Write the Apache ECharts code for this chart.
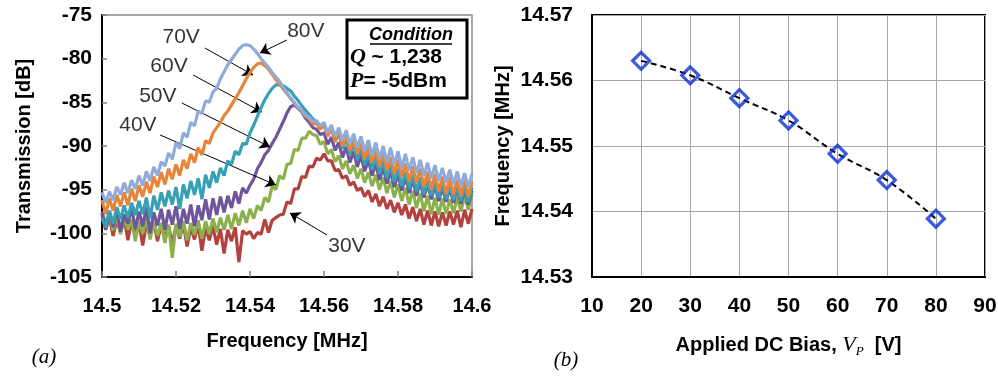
<!DOCTYPE html>
<html>
<head>
<meta charset="utf-8">
<script src="https://cdn.jsdelivr.net/npm/echarts@6.0.0/dist/echarts.min.js"></script>
<style>
  html, body { margin: 0; padding: 0; background: #fff; }
  #chart { width: 998px; height: 376px; }
</style>
</head>
<body>
<div id="chart"></div>
<script>
// ---- (a) transmission sweeps: 14.500 .. 14.600 MHz, one sample per kHz ----
const freqStart = 14.5;
const freqStep = 0.001;
const biasNames = ['30V', '40V', '50V', '60V', '70V', '80V'];

const trace30 = [
  -97.9, -99.6, -98.2, -100.3, -98.5, -99.9, -98.3, -100.8, -98.6, -100.1,
  -98.8, -101.4, -98.9, -100.3, -98.7, -100.9, -99.0, -100.5, -99.1, -101.2,
  -99.2, -100.6, -98.9, -101.5, -99.3, -100.7, -99.0, -102.0, -99.4, -100.8,
  -99.2, -101.3, -99.5, -102.3, -99.6, -100.9, -99.3, -103.3, -99.7, -100.1,
  -99.8, -100.6, -99.9, -100.1, -98.4, -99.9, -98.5, -98.2, -97.9, -97.8,
  -96.4, -96.6, -94.9, -94.9, -93.5, -93.6, -92.3, -92.4, -91.4, -91.6,
  -90.9, -91.7, -91.7, -92.8, -92.7, -93.7, -93.4, -94.5, -94.1, -95.1,
  -94.8, -95.8, -95.1, -96.4, -95.5, -96.9, -95.8, -97.2, -96.2, -97.6,
  -96.5, -97.9, -96.7, -98.3, -97.0, -98.6, -97.2, -99.0, -97.4, -99.1,
  -97.5, -99.2, -97.6, -99.1, -97.5, -99.0, -97.4, -99.3, -97.3, -98.9, -97.2
];
const trace40 = [
  -97.5, -98.9, -97.9, -99.7, -98.0, -100.1, -98.3, -99.6, -98.4, -100.9,
  -98.6, -100.0, -98.3, -100.7, -98.7, -100.3, -98.8, -101.1, -99.0, -102.8,
  -98.9, -100.4, -98.6, -100.8, -98.8, -100.2, -98.5, -100.6, -98.6, -100.1,
  -98.3, -99.9, -98.2, -99.6, -97.9, -99.5, -97.7, -99.1, -97.4, -98.8,
  -97.2, -98.3, -96.8, -97.4, -95.9, -96.4, -94.6, -95.0, -93.4, -93.8,
  -92.1, -92.0, -90.4, -90.5, -89.1, -89.1, -88.3, -88.7, -88.8, -89.8,
  -89.5, -90.9, -90.4, -91.8, -91.1, -92.6, -91.7, -93.2, -92.2, -93.7,
  -92.6, -94.2, -93.0, -94.6, -93.3, -95.0, -93.6, -95.4, -94.0, -95.9,
  -94.4, -96.3, -94.8, -96.7, -95.1, -97.1, -95.4, -97.5, -95.7, -97.8,
  -95.9, -97.9, -96.0, -97.8, -96.1, -97.7, -95.9, -97.5, -95.7, -97.3, -95.6
];
const trace50 = [
  -97.6, -99.4, -97.5, -99.3, -97.2, -99.8, -97.8, -98.9, -97.1, -99.5,
  -97.5, -99.2, -97.0, -100.0, -97.6, -99.1, -97.2, -99.6, -97.3, -99.0,
  -96.9, -99.5, -97.2, -98.9, -96.7, -99.2, -96.8, -98.5, -96.1, -98.4,
  -96.0, -97.9, -95.8, -97.6, -95.7, -97.1, -95.2, -96.6, -94.8, -95.4,
  -94.5, -93.8, -92.6, -91.9, -91.0, -90.5, -89.7, -89.0, -88.1, -87.2,
  -86.2, -85.5, -85.3, -85.7, -86.1, -86.8, -87.3, -87.9, -88.1, -88.7,
  -88.5, -89.8, -89.0, -90.5, -89.6, -91.3, -90.1, -91.9, -90.6, -92.4,
  -91.1, -92.9, -91.6, -93.4, -92.0, -93.9, -92.4, -94.3, -92.8, -94.7,
  -93.2, -95.1, -93.5, -95.4, -93.8, -95.7, -94.1, -95.9, -94.3, -96.1,
  -94.5, -96.3, -94.7, -96.4, -94.8, -96.5, -94.9, -96.6, -95.0, -96.7, -95.1
];
const trace60 = [
  -98.3, -99.3, -97.4, -98.9, -97.0, -98.4, -96.8, -98.2, -96.5, -97.9,
  -96.3, -97.8, -95.9, -98.3, -95.7, -97.3, -95.3, -96.9, -95.1, -96.7,
  -94.7, -97.2, -94.4, -96.0, -94.0, -95.6, -93.7, -96.1, -93.3, -94.8,
  -92.9, -94.2, -92.5, -93.4, -91.7, -92.1, -90.6, -91.0, -89.7, -89.8,
  -88.5, -87.6, -86.6, -85.6, -84.7, -84.0, -83.4, -83.0, -83.0, -83.1,
  -83.4, -83.7, -84.3, -84.8, -85.4, -85.9, -86.4, -86.9, -87.3, -87.7,
  -87.6, -88.8, -88.0, -89.5, -88.5, -90.3, -89.1, -91.0, -89.7, -91.6,
  -90.3, -92.2, -90.8, -92.7, -91.3, -93.2, -91.7, -93.7, -92.2, -94.1,
  -92.6, -94.6, -93.0, -94.9, -93.3, -95.2, -93.6, -95.5, -93.9, -95.7,
  -94.1, -95.9, -94.3, -96.1, -94.5, -96.2, -94.6, -96.3, -94.7, -96.4, -94.8
];
const trace70 = [
  -96.2, -97.8, -96.0, -97.4, -95.6, -96.9, -95.3, -96.8, -94.9, -96.3,
  -94.5, -95.8, -94.1, -95.4, -93.5, -94.7, -93.0, -94.4, -92.6, -93.8,
  -92.1, -93.4, -91.6, -92.6, -90.9, -91.9, -90.2, -91.0, -89.4, -89.7,
  -88.5, -87.9, -87.3, -86.5, -86.0, -85.3, -84.6, -83.9, -83.1, -82.3,
  -81.6, -81.0, -80.6, -80.5, -80.8, -81.2, -81.8, -82.4, -82.9, -83.5,
  -84.0, -84.5, -85.1, -85.6, -86.0, -86.6, -86.9, -87.5, -87.4, -88.1,
  -87.5, -88.9, -87.9, -89.5, -88.3, -90.0, -88.7, -90.5, -89.2, -90.9,
  -89.7, -91.5, -90.0, -91.9, -90.4, -92.4, -90.8, -92.8, -91.3, -93.2,
  -91.6, -93.5, -92.0, -94.1, -92.3, -94.2, -92.6, -94.7, -92.9, -95.0,
  -93.2, -95.2, -93.5, -95.5, -93.6, -95.6, -93.8, -95.7, -93.9, -95.8, -94.1
];
const trace80 = [
  -95.3, -96.5, -95.2, -96.2, -94.7, -95.6, -94.2, -95.4, -93.9, -94.9,
  -93.4, -94.5, -92.9, -94.0, -92.4, -93.4, -91.8, -92.3, -90.8, -91.5,
  -89.6, -90.3, -88.5, -89.0, -87.3, -87.7, -86.0, -86.3, -84.8, -85.0,
  -83.8, -83.4, -82.3, -81.5, -80.7, -80.1, -79.5, -78.9, -78.5, -78.4,
  -78.5, -78.9, -79.4, -80.0, -80.5, -81.0, -81.6, -82.1, -82.6, -83.3,
  -83.9, -84.6, -85.0, -85.6, -85.9, -86.5, -86.7, -87.2, -87.1, -87.7,
  -87.3, -88.5, -87.6, -88.9, -87.9, -89.4, -88.2, -89.8, -88.6, -90.2,
  -88.9, -90.6, -89.3, -91.1, -89.6, -91.5, -90.0, -91.9, -90.2, -92.2,
  -90.6, -92.5, -90.9, -92.8, -91.3, -93.1, -91.6, -93.4, -91.9, -93.7,
  -92.2, -94.0, -92.5, -94.2, -92.7, -94.4, -92.9, -94.6, -93.1, -94.7, -93.2
];
const traces = [trace30, trace40, trace50, trace60, trace70, trace80];
const traceColors = ['#b3423f', '#8cb04b', '#6f559b', '#35a0b6', '#e8843a', '#8fabd9'];

// annotation text and arrows, in (MHz, dB) of panel (a)
const annoText = ['80V', '70V', '60V', '50V', '40V', '30V'];
const annoAt = [[14.5551, -76.83], [14.5214, -77.52], [14.5181, -80.84], [14.5151, -84.27], [14.5097, -87.60], [14.5662, -101.45]];
const arrowFrom = [[14.5500, -77.86], [14.5278, -78.78], [14.5246, -81.87], [14.5216, -85.08], [14.5157, -88.74], [14.5608, -100.19]];
const arrowTo = [[14.5427, -79.35], [14.5408, -81.87], [14.5432, -86.11], [14.5454, -90.11], [14.5470, -94.47], [14.5508, -97.67]];

// ---- (b) resonance frequency vs DC bias ----
const biasVolts = [20, 30, 40, 50, 60, 70, 80];
const resFreq = [14.5630, 14.5608, 14.5573, 14.5539, 14.5488, 14.5448, 14.5389];

const SANS = '"Liberation Sans", Arial, sans-serif';
const SERIF = '"Liberation Serif", "Times New Roman", serif';

const sweep = vals => vals.map((v, i) => [+(freqStart + i * freqStep).toFixed(3), v]);

const boldLabel = { color: '#000', fontFamily: SANS, fontWeight: 'bold' };

const chart = echarts.init(document.getElementById('chart'));

const traceSeries = traces.map((d, k) => ({
  name: biasNames[k],
  type: 'line',
  xAxisIndex: 0,
  yAxisIndex: 0,
  data: sweep(d),
  symbol: 'none',
  silent: true,
  z: 2 + k,
  lineStyle: { width: 3.2, color: traceColors[k] }
}));

const option = {
  animation: false,
  backgroundColor: '#fff',
  grid: [
    { left: 102, top: 15, width: 370, height: 262, containLabel: false, outerBoundsMode: 'none',
      show: true, borderColor: '#8a8a8a', borderWidth: 1.5 },
    { left: 592, top: 15, width: 393, height: 262, containLabel: false, outerBoundsMode: 'none',
      show: true, borderColor: '#000', borderWidth: 2 }
  ],
  xAxis: [
    {
      gridIndex: 0, type: 'value', min: 14.5, max: 14.6, interval: 0.02,
      axisLine: { show: true, onZero: false, lineStyle: { color: '#000', width: 2 } },
      axisTick: { show: true, inside: true, length: 6, lineStyle: { color: '#808080', width: 1.5 } },
      axisLabel: { ...boldLabel, fontSize: 20, margin: 19, showMinLabel: true, showMaxLabel: true },
      splitLine: { show: false },
      name: 'Frequency [MHz]', nameLocation: 'middle', nameGap: 54,
      nameTextStyle: { ...boldLabel, fontSize: 20 }
    },
    {
      gridIndex: 1, type: 'value', min: 10, max: 90, interval: 10,
      axisLine: { show: true, onZero: false, lineStyle: { color: '#000', width: 2 } },
      axisTick: { show: false },
      axisLabel: { ...boldLabel, fontSize: 21, margin: 19, showMinLabel: true, showMaxLabel: true },
      splitLine: { show: true, lineStyle: { color: '#a6a6a6', width: 1 } },
      name: '{a|Applied DC Bias, }{v|V}{s|P}{a|  [V]}', nameLocation: 'middle', nameGap: 55,
      nameTextStyle: {
        rich: {
          a: { ...boldLabel, fontSize: 20, lineHeight: 26 },
          v: { color: '#000', fontFamily: SERIF, fontStyle: 'italic', fontSize: 22, lineHeight: 26 },
          s: { color: '#000', fontFamily: SERIF, fontStyle: 'italic', fontSize: 13, lineHeight: 13, verticalAlign: 'bottom' }
        }
      }
    }
  ],
  yAxis: [
    {
      gridIndex: 0, type: 'value', min: -105, max: -75, interval: 5,
      axisLine: { show: true, onZero: false, lineStyle: { color: '#000', width: 2 } },
      axisTick: { show: true, inside: true, length: 5, lineStyle: { color: '#808080', width: 1.5 } },
      axisLabel: { ...boldLabel, fontSize: 21, margin: 10 },
      splitLine: { show: false },
      name: 'Transmission [dB]', nameLocation: 'middle', nameGap: 68,
      nameTextStyle: { ...boldLabel, fontSize: 20 }
    },
    {
      gridIndex: 1, type: 'value', min: 14.53, max: 14.57, interval: 0.01,
      axisLine: { show: true, onZero: false, lineStyle: { color: '#000', width: 2 } },
      axisTick: { show: false },
      axisLabel: { ...boldLabel, fontSize: 21, margin: 19, formatter: v => v.toFixed(2) },
      splitLine: { show: true, lineStyle: { color: '#a6a6a6', width: 1 } },
      name: 'Frequency [MHz]', nameLocation: 'middle', nameGap: 79,
      nameTextStyle: { ...boldLabel, fontSize: 20 }
    }
  ],
  series: [
    ...traceSeries,
    {
      name: 'labels',
      type: 'scatter',
      xAxisIndex: 0,
      yAxisIndex: 0,
      z: 20,
      silent: true,
      symbolSize: 1,
      itemStyle: { color: 'rgba(0,0,0,0)' },
      data: annoText.map((t, i) => ({ name: t, value: annoAt[i] })),
      label: { show: true, position: 'inside', formatter: '{b}', color: '#000', fontFamily: SANS, fontSize: 21 },
      markLine: {
        silent: true,
        symbol: ['none', 'arrow'],
        symbolSize: 10,
        label: { show: false },
        lineStyle: { color: '#000', width: 1, type: 'solid' },
        emphasis: { disabled: true },
        data: arrowFrom.map((p, i) => [{ coord: p }, { coord: arrowTo[i] }])
      }
    },
    {
      name: 'fit',
      type: 'line',
      xAxisIndex: 1,
      yAxisIndex: 1,
      data: biasVolts.map((v, i) => [v, resFreq[i]]),
      smooth: 0.4,
      symbol: 'none',
      silent: true,
      z: 3,
      lineStyle: { color: '#000', width: 2, type: [6, 4] }
    },
    {
      name: 'f0',
      type: 'scatter',
      xAxisIndex: 1,
      yAxisIndex: 1,
      data: biasVolts.map((v, i) => [v, resFreq[i]]),
      symbol: 'diamond',
      symbolSize: 17,
      z: 5,
      itemStyle: { color: 'rgba(255,255,255,0)', borderColor: '#0a30d0', borderWidth: 3.2 }
    }
  ],
  graphic: [
    { type: 'rect', z: 50, shape: { x: 347, y: 20, width: 120, height: 78 },
      style: { fill: '#fff', stroke: '#000', lineWidth: 3 } },
    { type: 'text', z: 51, x: 411, y: 35,
      style: { text: 'Condition', fill: '#000', fontFamily: SANS, fontWeight: 'bold', fontStyle: 'italic', fontSize: 18,
               align: 'center', verticalAlign: 'middle' } },
    { type: 'line', z: 51, shape: { x1: 370, y1: 44, x2: 452, y2: 44 },
      style: { stroke: '#000', lineWidth: 1.5 } },
    { type: 'text', z: 51, x: 350, y: 57,
      style: { text: '{q|Q }{b|~ 1,238}', fill: '#000', verticalAlign: 'middle',
               rich: { q: { fontFamily: SERIF, fontStyle: 'italic', fontWeight: 'bold', fontSize: 22 },
                       b: { fontFamily: SANS, fontWeight: 'bold', fontSize: 21 } } } },
    { type: 'text', z: 51, x: 350, y: 81,
      style: { text: '{q|P}{b|= -5dBm}', fill: '#000', verticalAlign: 'middle',
               rich: { q: { fontFamily: SERIF, fontStyle: 'italic', fontWeight: 'bold', fontSize: 22 },
                       b: { fontFamily: SANS, fontWeight: 'bold', fontSize: 21 } } } },
    { type: 'text', x: 44, y: 357,
      style: { text: '(a)', fill: '#000', fontFamily: SERIF, fontStyle: 'italic', fontSize: 21,
               align: 'center', verticalAlign: 'middle' } },
    { type: 'text', x: 566, y: 360,
      style: { text: '(b)', fill: '#000', fontFamily: SERIF, fontStyle: 'italic', fontSize: 21,
               align: 'center', verticalAlign: 'middle' } }
  ]
};

chart.setOption(option);
</script>
</body>
</html>
